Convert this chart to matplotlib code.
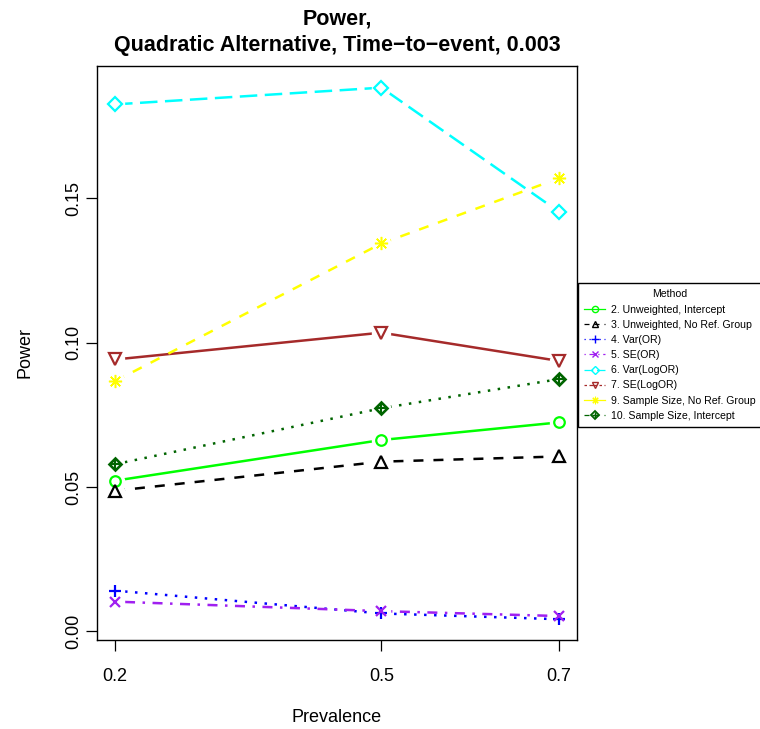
import matplotlib
matplotlib.use('Agg')
import matplotlib.pyplot as plt
from matplotlib.lines import Line2D

plt.rcParams['font.family'] = ['Liberation Sans', 'DejaVu Sans']

# ---------------- data ----------------
prevalence = [0.2, 0.5, 0.7]
x_ticks = [0.2, 0.5, 0.7]
x_tick_labels = ["0.2", "0.5", "0.7"]
y_ticks = [0.00, 0.05, 0.10, 0.15]
y_tick_labels = ["0.00", "0.05", "0.10", "0.15"]

method_labels = [
    "2. Unweighted, Intercept",
    "3. Unweighted, No Ref. Group",
    "4. Var(OR)",
    "5. SE(OR)",
    "6. Var(LogOR)",
    "7. SE(LogOR)",
    "9. Sample Size, No Ref. Group",
    "10. Sample Size, Intercept",
]
power_unweighted_intercept = [0.0522, 0.0663, 0.0724]
power_unweighted_noref = [0.0487, 0.0588, 0.0606]
power_var_or = [0.0141, 0.0062, 0.0042]
power_se_or = [0.0103, 0.0070, 0.0053]
power_var_logor = [0.1826, 0.1884, 0.1454]
power_se_logor = [0.0942, 0.1035, 0.0937]
power_ss_noref = [0.0867, 0.1344, 0.1570]
power_ss_intercept = [0.0579, 0.0773, 0.0874]

series = [
    power_unweighted_intercept, power_unweighted_noref, power_var_or, power_se_or,
    power_var_logor, power_se_logor, power_ss_noref, power_ss_intercept,
]

# ---------------- styles ----------------
colors = ['#00FF00', '#000000', '#0000FF', '#A020F0', '#00FFFF', '#A52A2A', '#FFFF00', '#006400']
markers = ['o', '^', '+', 'x', 'D', 'v', (8, 2, 0), 'D']
msizes = [7.6, 8.6, 9.0, 7.6, 6.8, 8.6, 9.5, 6.0]
mews = [1.6, 1.6, 1.6, 1.6, 1.6, 1.6, 1.1, 1.9]
filled = [False, False, True, True, False, False, True, False]

LW = 1.8
SOLID = None
DASHED = (4, 4)
DOTTED = (1, 3)
DOTDASH = (1, 3, 4, 3)
LONGDASH = (7, 3)
TWODASH = (2, 2, 6, 2)
plot_dashes = [SOLID, DASHED, DOTTED, DOTDASH, LONGDASH, SOLID, DASHED, DOTTED]
legend_dashes = [SOLID, DASHED, DOTTED, DOTDASH, LONGDASH, TWODASH, SOLID, DASHED]

fig = plt.figure(figsize=(7.6, 7.29), dpi=100)
ax = fig.add_axes([97.3 / 760, 89 / 729, (576.7 - 97.3) / 760, (640 - 66) / 729])

for i, vals in enumerate(series):
    ln, = ax.plot(prevalence, vals, color=colors[i], lw=LW, zorder=2,
                  solid_capstyle='butt', dash_capstyle='butt')
    if plot_dashes[i] is not None:
        ln.set_dashes(plot_dashes[i])
    # gap around points (R type="b")
    ax.plot(prevalence, vals, linestyle='none', marker='o', markersize=14,
            markerfacecolor='white', markeredgecolor='none', zorder=3)

for i, vals in enumerate(series):
    ax.plot(prevalence, vals, linestyle='none', marker=markers[i], markersize=msizes[i],
            markerfacecolor='none' if not filled[i] else colors[i],
            markeredgecolor=colors[i], markeredgewidth=mews[i], zorder=4)
# diamond-plus for method 10
ax.plot(prevalence, power_ss_intercept, linestyle='none', marker='+', markersize=7.5,
        markeredgecolor=colors[7], markeredgewidth=1.5, zorder=4)

ax.set_xlim(0.18, 0.72)
ax.set_ylim(-0.0030, 0.1959)
ax.set_xticks(x_ticks)
ax.set_xticklabels(x_tick_labels)
ax.set_yticks(y_ticks)
ax.set_yticklabels(y_tick_labels, rotation=90, va='center')
ax.tick_params(axis='both', length=8, width=0.9, labelsize=13, direction='out')
ax.tick_params(axis='x', pad=12.5)
ax.tick_params(axis='y', pad=3)
for sp in ax.spines.values():
    sp.set_linewidth(1.0)

ax.set_xlabel("Prevalence", fontsize=13, va='center')
ax.xaxis.set_label_coords(0.5, (640 - 718) / 574)
ax.set_ylabel("Power", fontsize=13, va='center')
ax.yaxis.set_label_coords((25 - 97.3) / 479.4, 0.5)

title_x = (97.3 + 576.7) / 2 / 760
fig.text(title_x, 1 - 19 / 729, "Power,", ha='center', va='center',
         fontsize=15.5, fontweight='bold')
fig.text(title_x, 1 - 45 / 729, "Quadratic Alternative, Time\u2212to\u2212event, 0.003",
         ha='center', va='center', fontsize=15.5, fontweight='bold')

# ---------------- legend ----------------
handles = []
leg_ms = [4.5, 5.0, 5.2, 4.5, 4.0, 5.0, 5.4, 3.6]
leg_mew = [1.0, 1.0, 1.0, 1.0, 1.0, 1.0, 0.8, 1.3]
for i in range(len(series)):
    h = Line2D([], [], color=colors[i], lw=0.9, marker=markers[i], markersize=leg_ms[i],
               markerfacecolor=colors[i] if filled[i] else 'none',
               markeredgecolor=colors[i], markeredgewidth=leg_mew[i])
    if legend_dashes[i] is not None:
        h.set_dashes(legend_dashes[i])
    if i == 7:
        hp = Line2D([], [], color=colors[i], lw=0, marker='+', markersize=4.5,
                    markeredgecolor=colors[i], markeredgewidth=1.0)
        h = (h, hp)
    handles.append(h)

leg = fig.legend(handles, method_labels, title="Method", loc='upper left',
                 bbox_to_anchor=(578 / 760, 1 - 283 / 729), bbox_transform=fig.transFigure,
                 borderaxespad=0, fontsize=7.6, title_fontsize=7.6, frameon=True, fancybox=False,
                 edgecolor='black', framealpha=1, borderpad=0.6, handlelength=2.0,
                 handletextpad=0.55, labelspacing=0.49)
leg.get_frame().set_linewidth(1.0)

fig.savefig('out.png', dpi=100)
